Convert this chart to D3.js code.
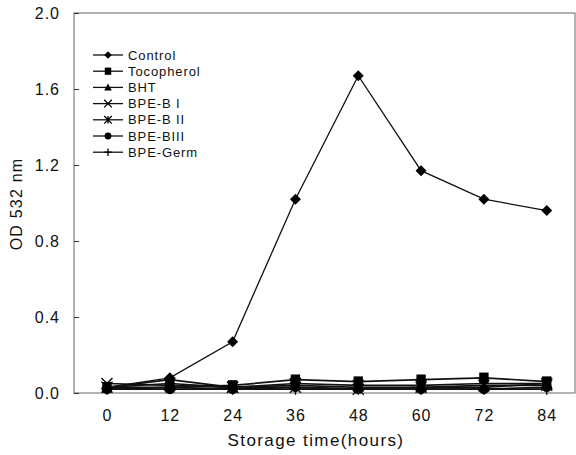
<!DOCTYPE html>
<html>
<head>
<meta charset="utf-8">
<script src="https://cdn.jsdelivr.net/npm/d3@7"></script>
<style>
  body { margin: 0; background: #fff; }
  text { font-family: "Liberation Sans", Arial, sans-serif; fill: #111; }
</style>
</head>
<body>
<div id="graph"></div>
<script>
const hours = [0, 12, 24, 36, 48, 60, 72, 84]
const yTicks = [0.0, 0.4, 0.8, 1.2, 1.6, 2.0]
const seriesNames = ['Control', 'Tocopherol', 'BHT', 'BPE-B I', 'BPE-B II', 'BPE-BIII', 'BPE-Germ']
const control = [0.03, 0.08, 0.27, 1.02, 1.67, 1.17, 1.02, 0.96]
const tocopherol = [0.03, 0.03, 0.04, 0.07, 0.06, 0.07, 0.08, 0.06]
const bht = [0.03, 0.07, 0.03, 0.04, 0.03, 0.03, 0.03, 0.05]
const bpeB1 = [0.05, 0.04, 0.03, 0.03, 0.02, 0.03, 0.04, 0.04]
const bpeB2 = [0.03, 0.05, 0.03, 0.05, 0.04, 0.04, 0.05, 0.05]
const bpeB3 = [0.02, 0.02, 0.02, 0.03, 0.02, 0.02, 0.02, 0.03]
const bpeGerm = [0.02, 0.03, 0.02, 0.02, 0.02, 0.02, 0.02, 0.02]

const allSeries = [control, tocopherol, bht, bpeB1, bpeB2, bpeB3, bpeGerm]
const shapes = ['diamond', 'square', 'triangle', 'x', 'star', 'circle', 'plus']

var svg = d3.select('#graph')
  .append('svg')
  .attr('width', 576)
  .attr('height', 455)

var x = d3.scaleLinear().domain([-6.3, 89.4]).range([74, 575])
var y = d3.scaleLinear().domain([0, 2]).range([393, 13])

// frame
svg.append('rect')
  .attr('x', 74).attr('y', 13)
  .attr('width', 501).attr('height', 380)
  .attr('fill', 'none')
  .attr('stroke', '#666')
  .attr('stroke-width', 1)

var yAxis = d3.axisLeft(y)
  .tickValues(yTicks)
  .tickSize(-5)
  .tickPadding(14)
  .tickFormat(d3.format('.1f'))

svg.append('g')
  .attr('transform', 'translate(74,0)')
  .call(yAxis)
  .call(g => g.select('.domain').remove())
  .call(g => g.selectAll('.tick line').attr('stroke', '#333'))
  .call(g => g.selectAll('text').style('font-size', '16px').style('letter-spacing', '1px'))

var xAxis = d3.axisBottom(x)
  .tickValues(hours)
  .tickSize(0)
  .tickPadding(17)

svg.append('g')
  .attr('transform', 'translate(0,393)')
  .call(xAxis)
  .call(g => g.select('.domain').remove())
  .call(g => g.selectAll('text').style('font-size', '16px').style('letter-spacing', '1px'))

svg.append('text')
  .attr('x', 316).attr('y', 446)
  .attr('text-anchor', 'middle')
  .style('font-size', '17px')
  .style('letter-spacing', '1.4px')
  .text('Storage time(hours)')

svg.append('text')
  .attr('transform', 'translate(22,204) rotate(-90)')
  .attr('text-anchor', 'middle')
  .style('font-size', '16px')
  .style('letter-spacing', '1.2px')
  .text('OD 532 nm')

function marker(g, shape, s) {
  if (shape === 'diamond') {
    g.append('path').attr('d', `M0,${-s}L${s},0L0,${s}L${-s},0Z`).attr('fill', '#000')
  } else if (shape === 'square') {
    g.append('rect').attr('x', -s * 0.85).attr('y', -s * 0.95)
      .attr('width', s * 1.7).attr('height', s * 1.9).attr('fill', '#000')
  } else if (shape === 'triangle') {
    g.append('path').attr('d', `M0,${-s}L${s},${s * 0.8}L${-s},${s * 0.8}Z`).attr('fill', '#000')
  } else if (shape === 'x') {
    g.append('path').attr('d', `M${-s},${-s}L${s},${s}M${-s},${s}L${s},${-s}`)
      .attr('stroke', '#000').attr('stroke-width', 1.3)
  } else if (shape === 'star') {
    g.append('path').attr('d', `M${-s},${-s}L${s},${s}M${-s},${s}L${s},${-s}M0,${-s}L0,${s}`)
      .attr('stroke', '#000').attr('stroke-width', 1.3)
  } else if (shape === 'circle') {
    g.append('circle').attr('r', s * 0.9).attr('fill', '#000')
  } else if (shape === 'plus') {
    g.append('path').attr('d', `M0,${-s}L0,${s}M${-s},0L${s},0`)
      .attr('stroke', '#000').attr('stroke-width', 1.3)
  }
}

var line = d3.line()
  .x((d, i) => x(hours[i]))
  .y(d => y(d))

// draw low series first, control last
var order = [6, 5, 4, 3, 2, 1, 0]
order.forEach(function (k) {
  svg.append('path')
    .datum(allSeries[k])
    .attr('d', line)
    .attr('fill', 'none')
    .attr('stroke', '#111')
    .attr('stroke-width', k === 0 ? 1.3 : 1.7)
})

order.forEach(function (k) {
  svg.append('g')
    .selectAll('g')
    .data(allSeries[k])
    .enter()
    .append('g')
    .attr('transform', (d, i) => `translate(${x(hours[i])},${y(d)})`)
    .each(function () {
      marker(d3.select(this), shapes[k], k === 0 ? 5.5 : 5.5)
    })
})

// legend
var legend = svg.append('g')
  .attr('transform', 'translate(93,55)')

legend.selectAll('g')
  .data(seriesNames)
  .enter()
  .append('g')
  .attr('transform', (d, i) => `translate(0,${i * 16.2})`)
  .each(function (d, i) {
    var g = d3.select(this)
    g.append('line')
      .attr('x1', 0).attr('x2', 30)
      .attr('stroke', '#111').attr('stroke-width', 1.3)
    var m = g.append('g').attr('transform', 'translate(15,0)')
    marker(m, shapes[i], 3.8)
    g.append('text')
      .attr('x', 35).attr('y', 4.5)
      .style('font-size', '13px')
      .style('letter-spacing', '0.9px')
      .text(d)
  })
</script>
</body>
</html>
